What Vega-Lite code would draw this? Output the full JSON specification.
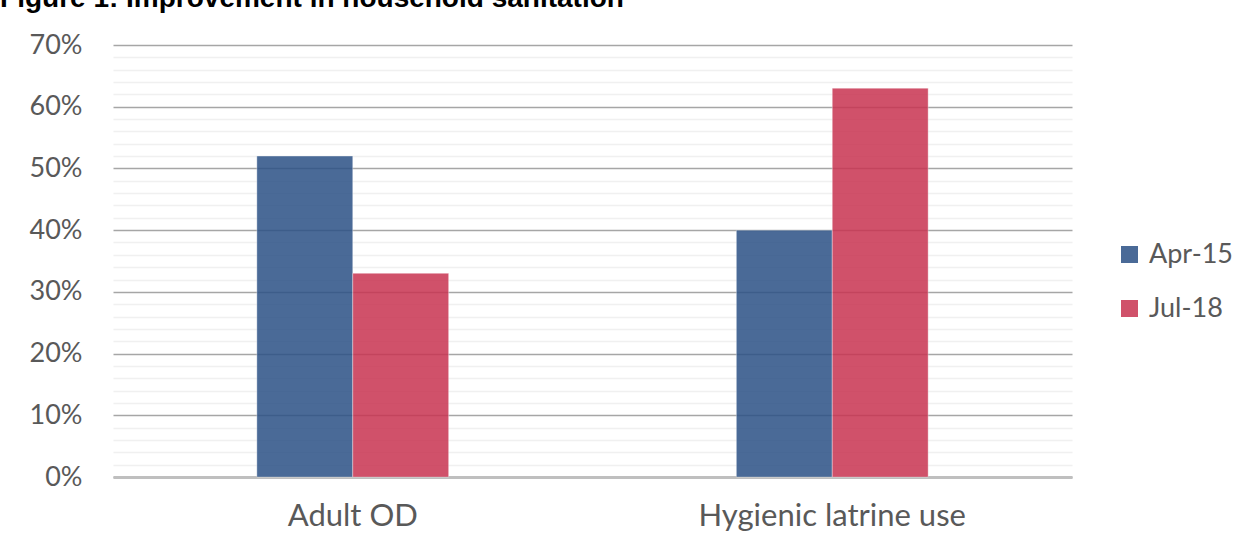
{
  "$schema": "https://vega.github.io/schema/vega-lite/v6.json",
  "autosize": "none",
  "width": 959,
  "height": 432,
  "padding": {"left": 113, "top": 45, "right": 173, "bottom": 68},
  "background": "white",
  "title": {
    "text": "Figure 1: Improvement in household sanitation",
    "anchor": "start",
    "frame": "bounds",
    "font": "Liberation Sans",
    "fontSize": 28,
    "fontWeight": "bold",
    "color": "#000000",
    "baseline": "alphabetic",
    "offset": 27,
    "dx": -29,
    "dy": 31
  },
  "data": {
    "values": [
      {"category": "Adult OD", "period": "Apr-15", "share": 0.52},
      {"category": "Adult OD", "period": "Jul-18", "share": 0.33},
      {"category": "Hygienic latrine use", "period": "Apr-15", "share": 0.40},
      {"category": "Hygienic latrine use", "period": "Jul-18", "share": 0.63}
    ]
  },
  "mark": {"type": "bar", "fillOpacity": 0.85, "stroke": "#ffffff", "strokeOpacity": 0.35, "strokeWidth": 1},
  "encoding": {
    "x": {
      "field": "category",
      "type": "nominal",
      "sort": null,
      "scale": {"paddingInner": 0.6, "paddingOuter": 0.3},
      "axis": {
        "title": null,
        "labelAngle": 0,
        "labelFont": "Lato",
        "labelFontSize": 31,
        "labelLimit": 0,
        "labelColor": "#595959",
        "labelPadding": 24,
        "ticks": false,
        "domainColor": "#bfbfbf",
        "domainWidth": 3,
        "grid": false
      }
    },
    "xOffset": {
      "field": "period",
      "type": "nominal",
      "sort": null,
      "scale": {"paddingInner": 0, "paddingOuter": 0}
    },
    "y": {
      "field": "share",
      "type": "quantitative",
      "scale": {"domain": [0, 0.7], "nice": false},
      "axis": {
        "title": null,
        "values": [0, 0.02, 0.04, 0.06, 0.08, 0.1, 0.12, 0.14, 0.16, 0.18, 0.2, 0.22, 0.24, 0.26, 0.28, 0.3, 0.32, 0.34, 0.36, 0.38, 0.4, 0.42, 0.44, 0.46, 0.48, 0.5, 0.52, 0.54, 0.56, 0.58, 0.6, 0.62, 0.64, 0.66, 0.68, 0.7],
        "labelExpr": "round(datum.value*50)%5==0 ? format(datum.value, '.0%') : ''",
        "labelFont": "Lato",
        "labelFontSize": 27,
        "labelColor": "#595959",
        "labelPadding": 31,
        "ticks": false,
        "domain": false,
        "grid": true,
        "gridColor": {"condition": {"test": "round(datum.value*50)%5==0", "value": "#a6a6a6"}, "value": "#f0f0f0"},
        "gridWidth": {"condition": {"test": "round(datum.value*50)%5==0", "value": 1.5}, "value": 1.5}
      }
    },
    "color": {
      "field": "period",
      "type": "nominal",
      "sort": null,
      "scale": {"range": ["#2a5085", "#c83350"]},
      "legend": {
        "title": null,
        "orient": "none",
        "legendX": 1003,
        "legendY": 196,
        "symbolType": "square",
        "symbolSize": 289,
        "symbolStrokeWidth": 0,
        "symbolOpacity": 0.85,
        "labelFont": "Lato",
        "labelFontSize": 27,
        "labelColor": "#595959",
        "labelOffset": 6,
        "rowPadding": 26
      }
    }
  },
  "config": {"view": {"stroke": null}}
}
